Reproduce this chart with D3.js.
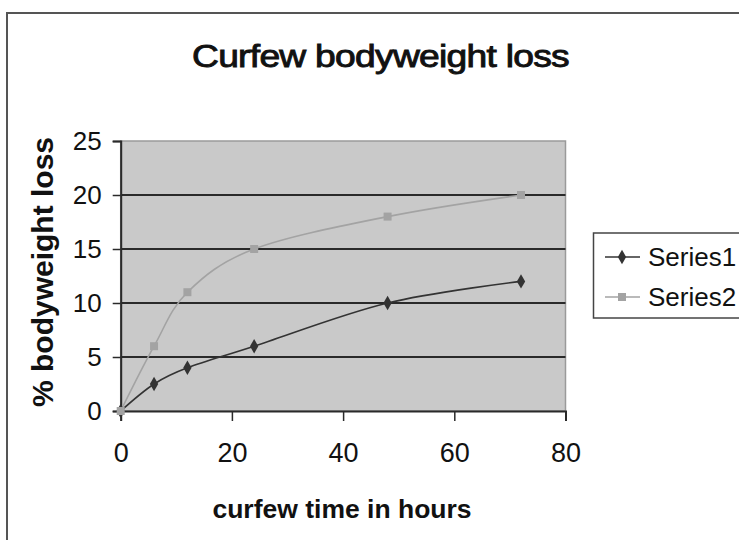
<!DOCTYPE html>
<html>
<head>
<meta charset="utf-8">
<script src="https://cdn.jsdelivr.net/npm/d3@7"></script>
<style>
  html, body { margin: 0; padding: 0; background: #fff; }
  svg { display: block; }
  text { font-family: "Liberation Sans", Arial, sans-serif; fill: #111; }
</style>
</head>
<body>
<svg id="chart" width="739" height="540"></svg>
<script>
const hours = [0, 6, 12, 24, 48, 72];
const series1 = [0, 2.5, 4, 6, 10, 12];
const series2 = [0, 6, 11, 15, 18, 20];
const seriesNames = ["Series1", "Series2"];
const xTicks = [0, 20, 40, 60, 80];
const yTicks = [0, 5, 10, 15, 20, 25];
const titleText = "Curfew bodyweight loss";
const xTitle = "curfew time in hours";
const yTitle = "% bodyweight loss";

const svg = d3.select("#chart");

// outer chart frame (cropped at right and bottom)
svg.append("rect")
  .attr("x", 7).attr("y", 13).attr("width", 760).attr("height", 560)
  .attr("fill", "#fff").attr("stroke", "#555").attr("stroke-width", 2);

const x = d3.scaleLinear().domain([0, 80]).range([120.7, 565.5]);
const y = d3.scaleLinear().domain([0, 25]).range([411, 141]);

// plot area
svg.append("rect")
  .attr("x", x(0)).attr("y", y(25))
  .attr("width", x(80) - x(0)).attr("height", y(0) - y(25))
  .attr("fill", "#c9c9c9").attr("stroke", "#9a9a9a").attr("stroke-width", 1.5);

// gridlines
svg.append("g").selectAll("line")
  .data(yTicks.filter(d => d > 0 && d < 25))
  .join("line")
  .attr("x1", x(0)).attr("x2", x(80))
  .attr("y1", d => y(d)).attr("y2", d => y(d))
  .attr("stroke", "#2a2a2a").attr("stroke-width", 1.8);

// axes
const xAxis = d3.axisBottom(x).tickValues(xTicks).tickSize(10).tickPadding(22);
const gx = svg.append("g").attr("transform", `translate(0,${y(0)})`).call(xAxis);
gx.select(".domain").attr("stroke", "#2a2a2a").attr("stroke-width", 2);
gx.selectAll(".tick line").attr("stroke", "#2a2a2a").attr("stroke-width", 1.5);
gx.selectAll(".tick text").attr("font-size", 27).attr("fill", "#111")
  .attr("font-family", "Liberation Sans, Arial, sans-serif");

const yAxis = d3.axisLeft(y).tickValues(yTicks).tickSize(8).tickPadding(11);
const gy = svg.append("g").attr("transform", `translate(${x(0)},0)`).call(yAxis);
gy.select(".domain").attr("stroke", "#2a2a2a").attr("stroke-width", 2);
gy.selectAll(".tick line").attr("stroke", "#2a2a2a").attr("stroke-width", 1.5);
gy.selectAll(".tick text").attr("font-size", 26).attr("fill", "#111")
  .attr("font-family", "Liberation Sans, Arial, sans-serif");

// lines
const line = d3.line().curve(d3.curveCatmullRom.alpha(0))
  .x(d => x(d[0])).y(d => y(d[1]));

const colors = ["#333333", "#a3a3a3"];
const data = [series1, series2].map(s => hours.map((h, i) => [h, s[i]]));

data.forEach((pts, k) => {
  svg.append("path").datum(pts)
    .attr("d", line)
    .attr("fill", "none").attr("stroke", colors[k]).attr("stroke-width", 1.6);
});

// markers
function drawMarker(g, k, cx, cy) {
  if (k === 0) {
    g.append("path")
      .attr("d", d3.symbol().type(d3.symbolDiamond).size(60)())
      .attr("transform", `translate(${cx},${cy})`)
      .attr("fill", colors[0]);
  } else {
    g.append("rect")
      .attr("x", cx - 4).attr("y", cy - 4).attr("width", 8).attr("height", 8)
      .attr("fill", colors[1]);
  }
}
const mg = svg.append("g");
data.forEach((pts, k) => {
  pts.forEach(p => drawMarker(mg, k, x(p[0]), y(p[1])));
});

// title
svg.append("text")
  .attr("x", 380.5).attr("y", 67)
  .attr("text-anchor", "middle")
  .attr("font-size", 31)
  .attr("stroke", "#111").attr("stroke-width", 0.9)
  .attr("letter-spacing", -0.6)
  .attr("transform", "translate(380.5,0) scale(1.2,1) translate(-380.5,0)")
  .text(titleText);

// x title
svg.append("text")
  .attr("x", 342).attr("y", 518)
  .attr("text-anchor", "middle")
  .attr("font-size", 26.5).attr("font-weight", "bold")
  .text(xTitle);

// y title
svg.append("text")
  .attr("transform", "translate(53,272) rotate(-90)")
  .attr("text-anchor", "middle")
  .attr("font-size", 30).attr("font-weight", "bold")
  .text(yTitle);

// legend
const lg = svg.append("g");
lg.append("rect")
  .attr("x", 593.5).attr("y", 233).attr("width", 160).attr("height", 85)
  .attr("fill", "#fff").attr("stroke", "#444").attr("stroke-width", 1.5);
seriesNames.forEach((name, k) => {
  const ly = 257 + k * 40;
  lg.append("line").attr("x1", 605).attr("x2", 640).attr("y1", ly).attr("y2", ly)
    .attr("stroke", colors[k]).attr("stroke-width", 1.6);
  drawMarker(lg, k, 622, ly);
  lg.append("text").attr("x", 648).attr("y", ly + 9)
    .attr("font-size", 26).text(name);
});
</script>
</body>
</html>
